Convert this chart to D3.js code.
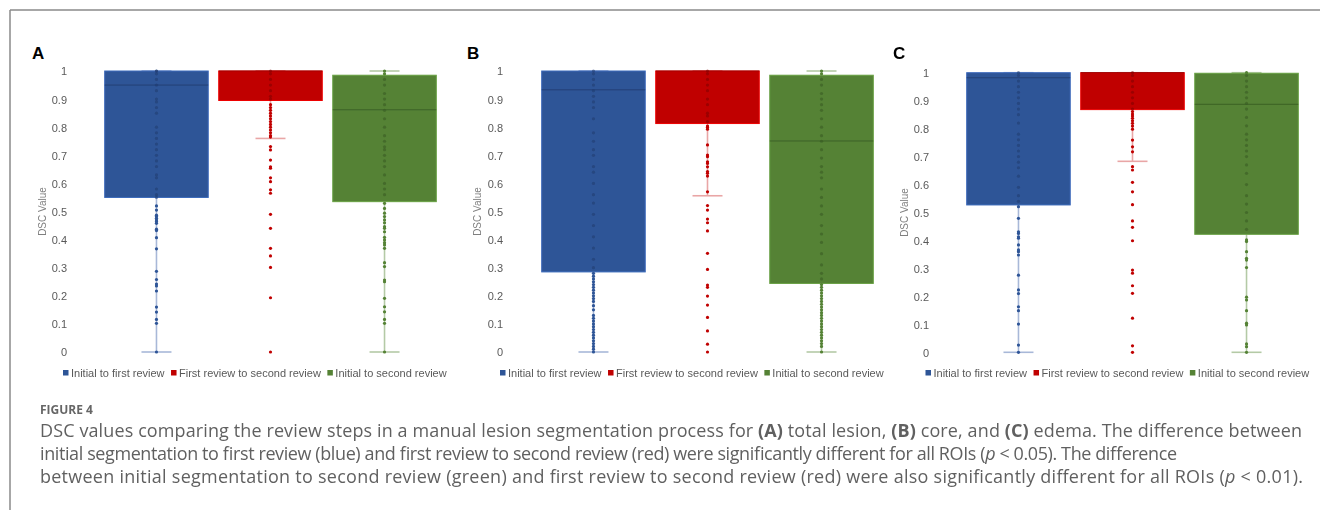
<!DOCTYPE html>
<html>
<head>
<meta charset="utf-8">
<script src="https://cdn.jsdelivr.net/npm/d3@7"></script>
<style>
  html, body { margin: 0; padding: 0; background: #fff; }
  svg { display: block; }
</style>
</head>
<body>
<svg id="fig" width="1320" height="510"></svg>
<script>
// Series shared by the three panels
const seriesNames = ["Initial to first review", "First review to second review", "Initial to second review"];
const seriesColors = ["#2F5597", "#C00000", "#548235"];
const seriesDark = ["#1F3A6E", "#7E0000", "#375A22"];
const seriesLight = ["#A8B8D8", "#E9A6A6", "#B4CAA6"];
const yTicks = [0, 0.1, 0.2, 0.3, 0.4, 0.5, 0.6, 0.7, 0.8, 0.9, 1];
const panelLetters = ["A", "B", "C"];

// Panel A: total lesion  (blue, red, green)
const lowA = [0, 0.76, 0];
const q1A = [0.55, 0.895, 0.535];
const medA = [0.95, 1, 0.862];
const q3A = [1, 1, 0.985];
const highA = [1, 1, 1];
const ptsA_blue = [1, 1, 0.99, 0.97, 0.95, 0.93, 0.9, 0.89, 0.87, 0.85, 0.8, 0.78, 0.76, 0.74, 0.72, 0.7, 0.68, 0.66, 0.63, 0.62, 0.58, 0.56,
  0.55, 0.52, 0.505, 0.487, 0.482, 0.476, 0.47, 0.464, 0.458, 0.437, 0.432, 0.407, 0.367, 0.287, 0.258, 0.242, 0.235, 0.217, 0.16, 0.142, 0.116, 0.102, 0];
const ptsA_red = [1, 0.99, 0.97, 0.95, 0.93, 0.91, 0.9, 0.88, 0.87, 0.86, 0.85, 0.84, 0.83, 0.82, 0.81, 0.8, 0.79, 0.78, 0.77, 0.765,
  0.731, 0.719, 0.683, 0.659, 0.654, 0.62, 0.606, 0.577, 0.565, 0.49, 0.44, 0.369, 0.342, 0.301, 0.193, 0];
const ptsA_green = [1, 0.99, 0.97, 0.95, 0.92, 0.9, 0.88, 0.86, 0.83, 0.8, 0.77, 0.75, 0.73, 0.72, 0.7, 0.68, 0.66, 0.63, 0.6, 0.58, 0.56,
  0.529, 0.511, 0.494, 0.482, 0.47, 0.46, 0.446, 0.44, 0.428, 0.408, 0.399, 0.389, 0.381, 0.369, 0.318, 0.304, 0.256, 0.25, 0.191, 0.161, 0.143, 0.116, 0.102, 0];

// Panel B: core
const lowB = [0, 0.556, 0];
const q1B = [0.285, 0.813, 0.244];
const medB = [0.933, 1, 0.751];
const q3B = [1, 1, 0.985];
const highB = [1, 1, 1];
const ptsB_blue = [1, 0.99, 0.97, 0.95, 0.93, 0.91, 0.89, 0.87, 0.83, 0.78, 0.75, 0.72, 0.7, 0.66, 0.64, 0.6, 0.56, 0.53, 0.49, 0.45, 0.41, 0.37, 0.33, 0.3,
  0.28, 0.27, 0.26, 0.25, 0.24, 0.23, 0.22, 0.21, 0.2, 0.19, 0.18, 0.165, 0.15, 0.13, 0.12, 0.11, 0.1, 0.09, 0.08, 0.07, 0.06, 0.05, 0.04, 0.03, 0.02, 0.01, 0];
const ptsB_red = [1, 0.99, 0.97, 0.95, 0.93, 0.9, 0.88, 0.85, 0.84, 0.82,
  0.804, 0.8, 0.793, 0.737, 0.701, 0.695, 0.677, 0.671, 0.659, 0.642, 0.636, 0.626, 0.57,
  0.521, 0.505, 0.473, 0.46, 0.431, 0.351, 0.294, 0.238, 0.23, 0.199, 0.167, 0.123, 0.075, 0.028, 0];
const ptsB_green = [1, 0.99, 0.97, 0.95, 0.92, 0.9, 0.88, 0.86, 0.83, 0.8, 0.77, 0.75, 0.72, 0.69, 0.66, 0.64, 0.62, 0.58, 0.55, 0.52, 0.49, 0.45, 0.42, 0.39, 0.35, 0.31, 0.28, 0.26,
  0.24, 0.23, 0.22, 0.21, 0.2, 0.19, 0.18, 0.17, 0.16, 0.15, 0.14, 0.13, 0.12, 0.11, 0.1, 0.09, 0.08, 0.07, 0.06, 0.05, 0.04, 0.03, 0.02, 0];

// Panel C: edema
const lowC = [0, 0.683, 0];
const q1C = [0.527, 0.868, 0.422];
const medC = [0.982, 1, 0.887];
const q3C = [1, 1, 0.998];
const highC = [1, 1, 1];
const ptsC_blue = [1, 0.99, 0.97, 0.95, 0.93, 0.91, 0.89, 0.87, 0.85, 0.82, 0.78, 0.76, 0.74, 0.72, 0.7, 0.68, 0.66, 0.63, 0.59, 0.56, 0.54,
  0.521, 0.479, 0.431, 0.425, 0.413, 0.408, 0.384, 0.366, 0.36, 0.348, 0.276, 0.223, 0.21, 0.163, 0.149, 0.101, 0.026, 0];
const ptsC_red = [1, 0.99, 0.97, 0.95, 0.93, 0.91, 0.89, 0.87,
  0.861, 0.852, 0.845, 0.837, 0.828, 0.819, 0.809, 0.798, 0.759, 0.735, 0.717,
  0.664, 0.652, 0.608, 0.574, 0.528, 0.47, 0.447, 0.399, 0.294, 0.283, 0.238, 0.211, 0.122, 0.023, 0];
const ptsC_green = [1, 0.99, 0.97, 0.95, 0.93, 0.91, 0.89, 0.87, 0.84, 0.81, 0.78, 0.76, 0.74, 0.72, 0.7, 0.67, 0.64, 0.6, 0.56, 0.53, 0.5, 0.47, 0.44,
  0.402, 0.396, 0.36, 0.336, 0.33, 0.303, 0.197, 0.187, 0.149, 0.104, 0.098, 0.03, 0.02, 0];

const panels = [
  { letter: panelLetters[0], low: lowA, q1: q1A, med: medA, q3: q3A, high: highA, pts: [ptsA_blue, ptsA_red, ptsA_green],
    letterX: 32, xRange: [99, 442], yRange: [352, 71], tickX: 67, titleX: 42, legendX: 63 },
  { letter: panelLetters[1], low: lowB, q1: q1B, med: medB, q3: q3B, high: highB, pts: [ptsB_blue, ptsB_red, ptsB_green],
    letterX: 467, xRange: [536, 879], yRange: [352, 71], tickX: 503, titleX: 477, legendX: 500 },
  { letter: panelLetters[2], low: lowC, q1: q1C, med: medC, q3: q3C, high: highC, pts: [ptsC_blue, ptsC_red, ptsC_green],
    letterX: 893, xRange: [961, 1304], yRange: [352.3, 72.7], tickX: 929, titleX: 904, legendX: 925.5 }
];

const svg = d3.select("#fig");
const chartFont = "'Liberation Sans', Arial, sans-serif";

const defs = svg.append("defs");
defs.append("filter").attr("id", "soft").attr("x", "-5%").attr("y", "-5%").attr("width", "110%").attr("height", "110%")
  .append("feGaussianBlur").attr("stdDeviation", 0.45);

// Outer frame (top and left rules)
svg.append("line").attr("x1", 10).attr("x2", 1320).attr("y1", 10).attr("y2", 10)
  .attr("stroke", "#8a8a8a").attr("stroke-width", 1.5);
svg.append("line").attr("x1", 10).attr("x2", 10).attr("y1", 10).attr("y2", 510)
  .attr("stroke", "#8a8a8a").attr("stroke-width", 1.5);

panels.forEach(p => {
  const g = svg.append("g").attr("filter", "url(#soft)");
  const x = d3.scaleBand().domain(seriesNames).range(p.xRange).paddingInner(0.092).paddingOuter(0.05);
  const y = d3.scaleLinear().domain([0, 1]).range(p.yRange);
  const bw = x.bandwidth();
  const cx = i => x(seriesNames[i]) + bw / 2;

  // panel letter
  svg.append("text").attr("x", p.letterX).attr("y", 59)
    .attr("font-family", chartFont).attr("font-weight", "bold").attr("font-size", 17)
    .attr("fill", "#000").text(p.letter);

  // y axis labels only
  const axis = d3.axisLeft(y).tickValues(yTicks).tickSize(0).tickPadding(0)
    .tickFormat(d => (d === 0 || d === 1) ? String(d) : d.toFixed(1));
  const ax = g.append("g").attr("transform", `translate(${p.tickX},0)`).call(axis);
  ax.select(".domain").remove();
  ax.selectAll("text").attr("font-family", chartFont).attr("font-size", 11).attr("fill", "#595959").attr("dy", "0.36em");

  g.append("text")
    .attr("transform", `translate(${p.titleX},${(p.yRange[0] + p.yRange[1]) / 2}) rotate(-90)`)
    .attr("text-anchor", "middle").attr("dy", "0.35em")
    .attr("font-family", chartFont).attr("font-size", 10).attr("fill", "#7f7f7f")
    .text("DSC Value");

  seriesNames.forEach((name, i) => {
    const c = cx(i);
    const lightC = seriesLight[i];
    // whiskers
    g.append("line").attr("x1", c).attr("x2", c).attr("y1", y(p.low[i])).attr("y2", y(p.q1[i]))
      .attr("stroke", lightC).attr("stroke-width", 1.6);
    g.append("line").attr("x1", c).attr("x2", c).attr("y1", y(p.q3[i])).attr("y2", y(p.high[i]))
      .attr("stroke", lightC).attr("stroke-width", 1.6);
    [p.low[i], p.high[i]].forEach(v => {
      g.append("line").attr("x1", c - 15).attr("x2", c + 15).attr("y1", y(v)).attr("y2", y(v))
        .attr("stroke", lightC).attr("stroke-width", 1.6);
    });
    // box
    g.append("rect").attr("x", x(name)).attr("width", bw)
      .attr("y", y(p.q3[i])).attr("height", y(p.q1[i]) - y(p.q3[i]))
      .attr("fill", seriesColors[i]).attr("stroke", d3.color(seriesColors[i]).brighter(0.6)).attr("stroke-width", 1);
    // median
    g.append("line").attr("x1", x(name)).attr("x2", x(name) + bw).attr("y1", y(p.med[i])).attr("y2", y(p.med[i]))
      .attr("stroke", seriesDark[i]).attr("stroke-width", 1).attr("opacity", 0.8);
    // individual values
    g.selectAll(null).data(p.pts[i]).enter().append("circle")
      .attr("cx", c).attr("cy", d => y(d)).attr("r", 1.6)
      .attr("fill", d => (d >= p.q1[i] && d <= p.q3[i]) ? seriesDark[i] : seriesColors[i])
      .attr("opacity", d => (d >= p.q1[i] && d <= p.q3[i]) ? 0.55 : 1);
  });

  // legend
  const lg = g.append("g").attr("transform", `translate(${p.legendX},373)`);
  let lx = 0;
  seriesNames.forEach((name, i) => {
    lg.append("rect").attr("x", lx).attr("y", -3).attr("width", 5.5).attr("height", 5.5).attr("fill", seriesColors[i]);
    const t = lg.append("text").attr("x", lx + 8).attr("y", 0).attr("dy", "0.35em")
      .attr("font-family", chartFont).attr("font-size", 11).attr("fill", "#595959").text(name);
    lx += 8 + t.node().getComputedTextLength() + 6.5;
  });
});

// Caption
const capFont = "'Open Sans', 'Noto Sans', sans-serif";
svg.append("text").attr("x", 40).attr("y", 414)
  .attr("font-family", capFont).attr("font-weight", "bold").attr("font-size", 12).attr("fill", "#666")
  .text("FIGURE 4");

const captionLines = [
  [["DSC values comparing the review steps in a manual lesion segmentation process for ", ""], ["(A)", "b"], [" total lesion, ", ""], ["(B)", "b"], [" core, and ", ""], ["(C)", "b"], [" edema. The difference between", ""]],
  [["initial segmentation to first review (blue) and first review to second review (red) were significantly different for all ROIs (", ""], ["p", "i"], [" < 0.05). The difference", ""]],
  [["between initial segmentation to second review (green) and first review to second review (red) were also significantly different for all ROIs (", ""], ["p", "i"], [" < 0.01).", ""]]
];
// line widths of the caption column
const captionWidths = [1262, 1137, 1263];
const capGroup = svg.append("g");
const capTexts = captionLines.map((parts, li) => {
  const t = capGroup.append("text").attr("x", 40).attr("y", 437 + li * 23)
    .attr("font-family", capFont).attr("font-size", 16).attr("fill", "#606060");
  parts.forEach(([s, st]) => {
    t.append("tspan").text(s)
      .attr("font-weight", st === "b" ? "bold" : null)
      .attr("font-style", st === "i" ? "italic" : null);
  });
  return t;
});
// pick a size that fills the column on average, then settle each line's width
const natural = capTexts.map(t => t.node().getComputedTextLength());
const scale = d3.sum(captionWidths) / d3.sum(natural);
capTexts.forEach((t, i) => {
  t.attr("font-size", 16 * scale)
    .attr("textLength", captionWidths[i])
    .attr("lengthAdjust", "spacing");
});
</script>
</body>
</html>
